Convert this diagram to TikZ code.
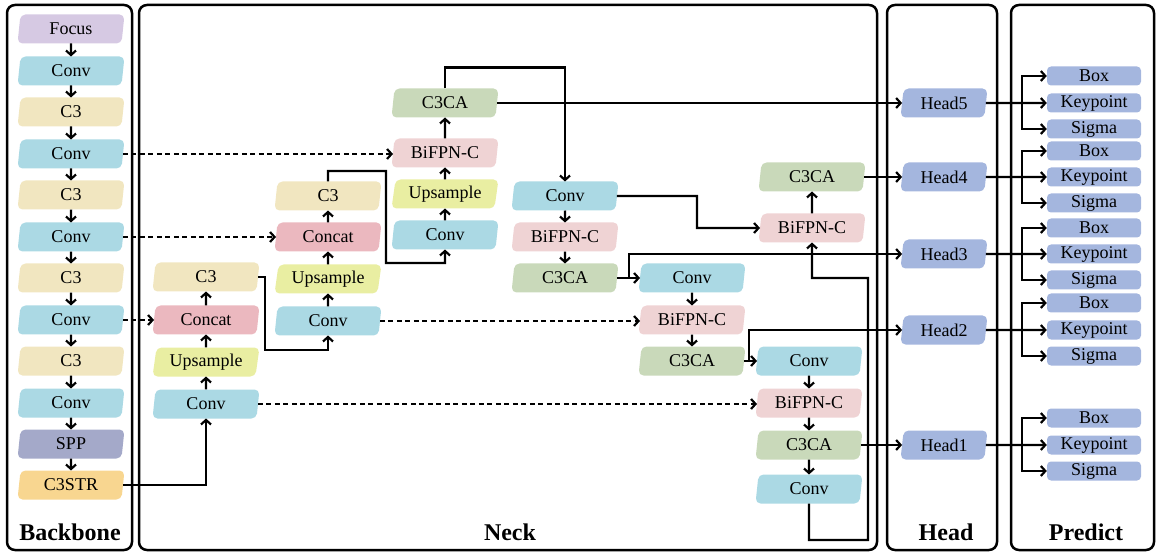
\documentclass[tikz,border=0pt]{standalone}
\usepackage{fontspec}
\newfontfamily\tnr{Liberation Serif}
\usetikzlibrary{shapes.geometric,arrows.meta,calc}
\definecolor{cFocus}{HTML}{D6C9E3}
\definecolor{cConv}{HTML}{ABD9E4}
\definecolor{cCthree}{HTML}{F1E6C0}
\definecolor{cSPP}{HTML}{A4A9C9}
\definecolor{cCSTR}{HTML}{F8D690}
\definecolor{cConcat}{HTML}{EBB8BF}
\definecolor{cUp}{HTML}{E9EEA2}
\definecolor{cBi}{HTML}{EFD3D4}
\definecolor{cCA}{HTML}{C9D9BA}
\definecolor{cHead}{HTML}{A4B6DE}
\begin{document}
\begin{tikzpicture}[x=1pt,y=-1pt,
  font=\tnr\fontsize{18}{20}\selectfont,
  pb/.style={trapezium, trapezium left angle=76, trapezium right angle=104,
    trapezium stretches body, minimum width=107pt, minimum height=29pt,
    inner sep=0pt, outer sep=0pt, rounded corners=5pt},
  focus/.style={pb, fill=cFocus},
  conv/.style={pb, fill=cConv},
  cthree/.style={pb, fill=cCthree},
  spp/.style={pb, fill=cSPP},
  cstr/.style={pb, fill=cCSTR},
  concat/.style={pb, fill=cConcat},
  ups/.style={pb, fill=cUp},
  bifpn/.style={pb, fill=cBi},
  cca/.style={pb, fill=cCA},
  headb/.style={pb, minimum width=87pt, fill=cHead},
  prb/.style={rectangle, rounded corners=4pt, minimum width=94pt, minimum height=19pt,
    inner sep=0pt, fill=cHead},
  conn/.style={line width=2.2pt, -{Straight Barb[length=4.5pt,width=10pt]}},
  dline/.style={line width=2.2pt, dash pattern=on 5pt off 3.5pt, -{Straight Barb[length=4.5pt,width=10pt]}},
  panel/.style={line width=2.5pt, rounded corners=8pt},
  lab/.style={font=\tnr\fontsize{24}{26}\selectfont\bfseries}
]
\useasboundingbox (0,0) rectangle (1162,553);

% panels
\draw[panel] (7,5) rectangle (132,550);
\draw[panel] (139,5) rectangle (877,550);
\draw[panel] (887,5) rectangle (997,550);
\draw[panel] (1011,5) rectangle (1154,550);

\node[lab] (lback) at (70,532) {Backbone};
\node[lab] (lneck) at (510,532) {Neck};
\node[lab] (lhead) at (946,532) {Head};
\node[lab] (lpred) at (1086,532) {Predict};

% backbone
\node[focus]  (b1)  at (71,29)  {Focus};
\node[conv]   (b2)  at (71,71)  {Conv};
\node[cthree] (b3)  at (71,112) {C3};
\node[conv]   (b4)  at (71,154) {Conv};
\node[cthree] (b5)  at (71,195) {C3};
\node[conv]   (b6)  at (71,237) {Conv};
\node[cthree] (b7)  at (71,278) {C3};
\node[conv]   (b8)  at (71,320) {Conv};
\node[cthree] (b9)  at (71,361) {C3};
\node[conv]   (b10) at (71,403) {Conv};
\node[spp]    (b11) at (71,444) {SPP};
\node[cstr]   (b12) at (71,485) {C3STR};
\foreach \i/\j in {1/2,2/3,3/4,4/5,5/6,6/7,7/8,8/9,9/10,10/11,11/12}
  \draw[conn] (b\i.south) -- (b\j.north);

% neck column 1
\node[cthree] (n1c3)  at (206,277) {C3};
\node[concat] (n1cat) at (206,320) {Concat};
\node[ups]    (n1up)  at (206,362) {Upsample};
\node[conv]   (n1cv)  at (206,404) {Conv};
% column 2
\node[cthree] (n2c3)  at (328,196) {C3};
\node[concat] (n2cat) at (328,237) {Concat};
\node[ups]    (n2up)  at (328,279) {Upsample};
\node[conv]   (n2cv)  at (328,321) {Conv};
% column 3
\node[cca]    (n3ca)  at (445,103) {C3CA};
\node[bifpn]  (n3bi)  at (445,153) {BiFPN-C};
\node[ups]    (n3up)  at (445,194) {Upsample};
\node[conv]   (n3cv)  at (445,235) {Conv};
% column 4
\node[conv]   (n4cv)  at (565,196) {Conv};
\node[bifpn]  (n4bi)  at (565,237) {BiFPN-C};
\node[cca]    (n4ca)  at (565,278) {C3CA};
% column 5
\node[conv]   (n5cv)  at (692,278) {Conv};
\node[bifpn]  (n5bi)  at (692,320) {BiFPN-C};
\node[cca]    (n5ca)  at (692,361) {C3CA};
% column 6
\node[cca]    (n6ca)  at (812,177) {C3CA};
\node[bifpn]  (n6bi)  at (812,228) {BiFPN-C};
% column 7
\node[conv]   (n7cv)  at (809,361) {Conv};
\node[bifpn]  (n7bi)  at (809,403) {BiFPN-C};
\node[cca]    (n7ca)  at (809,445) {C3CA};
\node[conv]   (n7cw)  at (809,489) {Conv};

% heads
\node[headb] (h5) at (944,103) {Head5};
\node[headb] (h4) at (944,177) {Head4};
\node[headb] (h3) at (944,254) {Head3};
\node[headb] (h2) at (944,330) {Head2};
\node[headb] (h1) at (944,445) {Head1};

% predict
\foreach \k/\yb/\yk/\ys in {5/76/103/129, 4/151/177/203, 3/228/254/280, 2/303/330/356, 1/418/445/471}{
  \node[prb] (box\k) at (1094,\yb) {Box};
  \node[prb] (kp\k)  at (1094,\yk) {Keypoint};
  \node[prb] (sg\k)  at (1094,\ys) {Sigma};
  \coordinate (pj\k) at (1022,\yk);
  \draw[conn] (h\k.east) -- (kp\k.west);
  \draw[conn] (pj\k) |- (box\k.west);
  \draw[conn] (pj\k) |- (sg\k.west);
}

% neck connectors
\draw[conn] (b12.east) -| (n1cv.south);
\draw[conn] (n1cv.north) -- (n1up.south);
\draw[conn] (n1up.north) -- (n1cat.south);
\draw[conn] (n1cat.north) -- (n1c3.south);
\draw[conn] (n1c3.east) -| (265,350) -| (n2cv.south);
\draw[conn] (n2cv.north) -- (n2up.south);
\draw[conn] (n2up.north) -- (n2cat.south);
\draw[conn] (n2cat.north) -- (n2c3.south);
\draw[conn] (n2c3.north) |- (386,171) |- (445,263) -- (n3cv.south);
\draw[conn] (n3cv.north) -- (n3up.south);
\draw[conn] (n3up.north) -- (n3bi.south);
\draw[conn] (n3bi.north) -- (n3ca.south);
\draw[conn] (n3ca.north) -- ++(0,-21) -| (n4cv.north);
\draw[conn] (n3ca.east) -- (n3ca.east -| h5.west);
\draw[conn] (n4cv.south) -- (n4bi.north);
\draw[conn] (n4bi.south) -- (n4ca.north);
\draw[conn] (n4cv.east) -| (697,228) -- (n6bi.west);
\draw[conn] (n6bi.north) -- (n6ca.south);
\draw[conn] (n6ca.east) -- (n6ca.east -| h4.west);
\coordinate (j1) at (629,278);
\draw[conn] (n4ca.east) -- (n5cv.west);
\draw[conn] (j1) |- (h3.west);
\draw[conn] (n5cv.south) -- (n5bi.north);
\draw[conn] (n5bi.south) -- (n5ca.north);
\coordinate (j2) at (749,361);
\draw[conn] (n5ca.east) -- (n7cv.west);
\draw[conn] (j2) |- (h2.west);
\draw[conn] (n7cv.south) -- (n7bi.north);
\draw[conn] (n7bi.south) -- (n7ca.north);
\draw[conn] (n7ca.south) -- (n7cw.north);
\draw[conn] (n7ca.east) -- (n7ca.east -| h1.west);
\draw[conn] (n7cw.south) |- (868,540) |- (812,278) -- (n6bi.south);

% dashed skip connections
\draw[dline] (b4.east) -- (b4.east -| n3bi.west);
\draw[dline] (b6.east) -- (b6.east -| n2cat.west);
\draw[dline] (b8.east) -- (b8.east -| n1cat.west);
\draw[dline] (n1cv.east) -- (n1cv.east -| n7bi.west);
\draw[dline] (n2cv.east) -- (n2cv.east -| n5bi.west);
\end{tikzpicture}
\end{document}
